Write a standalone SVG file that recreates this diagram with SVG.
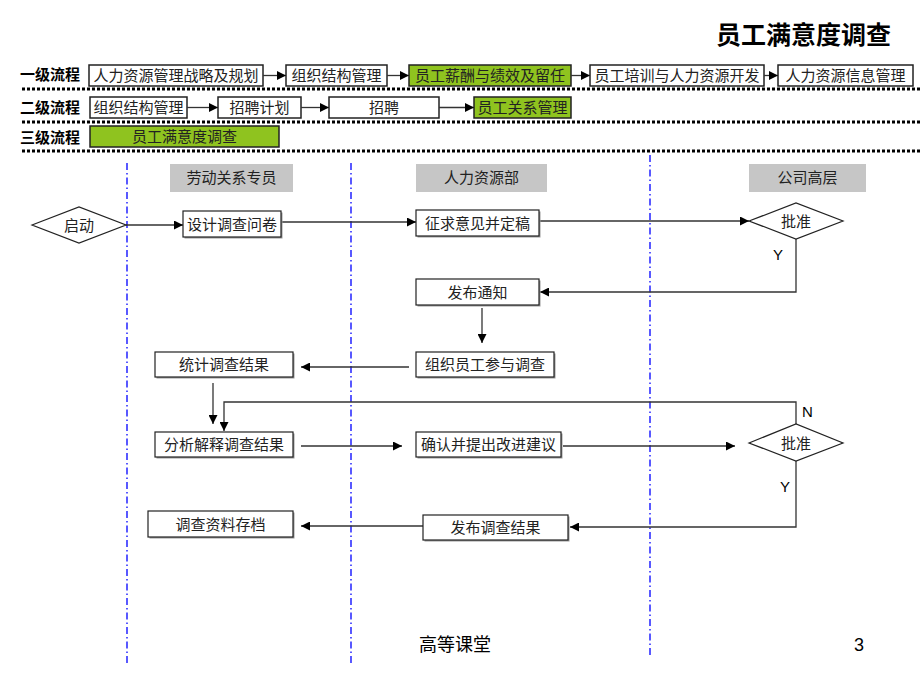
<svg xmlns="http://www.w3.org/2000/svg" width="920" height="690" viewBox="0 0 920 690">
<defs>
<marker id="ah" viewBox="0 0 10 10" refX="10" refY="5" markerWidth="9" markerHeight="9" markerUnits="userSpaceOnUse" orient="auto">
<path d="M0,0 L10,5 L0,10 z" fill="#000"/>
</marker>
<style>
text{font-family:"Noto Sans CJK SC","Liberation Sans",sans-serif;fill:#222;font-size:15px}
.lbl{font-weight:bold;fill:#000}
.hb{fill:#fff;stroke:#222;stroke-width:1.5}
.hg{fill:#8fc31f;stroke:#222;stroke-width:1.5}
.sep{stroke:#000;stroke-width:3;stroke-dasharray:3 2}
.lane{stroke:#0000ff;stroke-width:1.3;stroke-dasharray:7 3 1.5 3}
.lh{fill:#c6c6c6}
.bx{fill:#fff;stroke:#222;stroke-width:1.2}
.sh{fill:#999}
.cn{fill:none;stroke:#333;stroke-width:1.3}
.ca{fill:none;stroke:#333;stroke-width:1.3;marker-end:url(#ah)}
.yn{font-family:"Liberation Sans",Arial,sans-serif;font-size:15px;fill:#000}
</style>
</defs>
<rect width="920" height="690" fill="#fff"/>

<text x="891" y="44" text-anchor="end" style="font-size:25px;font-weight:bold;fill:#000">员工满意度调查</text>

<g id="levels">
<text class="lbl" x="20" y="80">一级流程</text>
<text class="lbl" x="20" y="113">二级流程</text>
<text class="lbl" x="20" y="143">三级流程</text>
<line class="sep" x1="22" y1="89" x2="920" y2="89"/>
<line class="sep" x1="22" y1="122" x2="920" y2="122"/>
<line class="sep" x1="22" y1="151" x2="920" y2="151"/>
</g>

<g id="h1a"><rect class="hb" x="89" y="65" width="174" height="21"/><text x="176" y="81" text-anchor="middle">人力资源管理战略及规划</text></g>
<g id="h1b"><rect class="hb" x="286" y="65" width="101" height="21"/><text x="336.5" y="81" text-anchor="middle">组织结构管理</text></g>
<g id="h1c"><rect class="hg" x="409" y="65" width="162" height="21"/><text x="490" y="81" text-anchor="middle">员工薪酬与绩效及留任</text></g>
<g id="h1d"><rect class="hb" x="590" y="65" width="174" height="21"/><text x="677" y="81" text-anchor="middle">员工培训与人力资源开发</text></g>
<g id="h1e"><rect class="hb" x="778" y="65" width="135" height="21"/><text x="845.5" y="81" text-anchor="middle">人力资源信息管理</text></g>

<g id="h2a"><rect class="hb" x="90" y="97" width="97" height="21"/><text x="138.5" y="113" text-anchor="middle">组织结构管理</text></g>
<g id="h2b"><rect class="hb" x="218" y="97" width="83" height="21"/><text x="259.5" y="113" text-anchor="middle">招聘计划</text></g>
<g id="h2c"><rect class="hb" x="329" y="97" width="110" height="21"/><text x="384" y="113" text-anchor="middle">招聘</text></g>
<g id="h2d"><rect class="hg" x="474" y="97" width="97" height="21"/><text x="522.5" y="113" text-anchor="middle">员工关系管理</text></g>

<g id="h3a"><rect class="hg" x="90" y="126" width="189" height="21"/><text x="184.5" y="142" text-anchor="middle">员工满意度调查</text></g>

<g id="lanes">
<line class="lane" x1="127" y1="163" x2="127" y2="665"/>
<line class="lane" x1="351" y1="163" x2="351" y2="665"/>
<line class="lane" x1="650" y1="155" x2="650" y2="658"/>
</g>

<g id="lane1"><rect class="lh" x="170" y="164" width="123" height="28"/><text x="231.5" y="183" text-anchor="middle">劳动关系专员</text></g>
<g id="lane2"><rect class="lh" x="416" y="164" width="131" height="28"/><text x="481.5" y="183" text-anchor="middle">人力资源部</text></g>
<g id="lane3"><rect class="lh" x="749" y="164" width="117" height="28"/><text x="807.5" y="183" text-anchor="middle">公司高层</text></g>

<g id="connectors">
<line class="ca" x1="263" y1="75.5" x2="286" y2="75.5"/>
<line class="ca" x1="387" y1="75.5" x2="409" y2="75.5"/>
<line class="ca" x1="571" y1="75.5" x2="590" y2="75.5"/>
<line class="ca" x1="764" y1="75.5" x2="778" y2="75.5"/>
<line class="ca" x1="187" y1="107.5" x2="218" y2="107.5"/>
<line class="ca" x1="301" y1="107.5" x2="329" y2="107.5"/>
<line class="ca" x1="439" y1="107.5" x2="474" y2="107.5"/>

<line class="ca" x1="126" y1="225" x2="183" y2="225"/>
<line class="ca" x1="281" y1="222" x2="416" y2="222"/>
<line class="ca" x1="539" y1="221" x2="749" y2="221"/>
<polyline class="ca" points="796,239 796,292 540,292"/>
<line class="ca" x1="482" y1="308" x2="482" y2="343"/>
<line class="ca" x1="409" y1="367" x2="301" y2="367"/>
<line class="ca" x1="213" y1="383" x2="213" y2="424"/>
<polyline class="ca" points="796,424 796,402 224,402 224,431"/>
<line class="ca" x1="301" y1="446" x2="402" y2="446"/>
<line class="ca" x1="563" y1="446" x2="735" y2="446"/>
<polyline class="ca" points="796,461 796,527 570,527"/>
<line class="ca" x1="423" y1="526" x2="301" y2="526"/>
<text class="yn" x="773" y="260">Y</text>
<text class="yn" x="802" y="417">N</text>
<text class="yn" x="780" y="492">Y</text>
</g>

<g id="start"><polygon points="32,225 79,207 126,225 79,243" fill="#fff" stroke="#222" stroke-width="1.2"/><text x="79" y="231" text-anchor="middle">启动</text></g>
<g id="design"><rect class="sh" x="184.5" y="212.5" width="98" height="26"/><rect class="bx" x="183" y="211" width="98" height="26"/><text x="232" y="230" text-anchor="middle">设计调查问卷</text></g>
<g id="solicit"><rect class="sh" x="417.5" y="211.5" width="123" height="26"/><rect class="bx" x="416" y="210" width="123" height="26"/><text x="477.5" y="229" text-anchor="middle">征求意见并定稿</text></g>
<g id="approve1"><polygon points="749,221 796,203 843,221 796,239" fill="#fff" stroke="#222" stroke-width="1.2"/><text x="796" y="227" text-anchor="middle">批准</text></g>
<g id="notice"><rect class="sh" x="417.5" y="280.5" width="123" height="26"/><rect class="bx" x="416" y="279" width="123" height="26"/><text x="477.5" y="298" text-anchor="middle">发布通知</text></g>
<g id="organize"><rect class="sh" x="417.5" y="353.5" width="138" height="25"/><rect class="bx" x="416" y="352" width="138" height="25"/><text x="485" y="370" text-anchor="middle">组织员工参与调查</text></g>
<g id="stats"><rect class="sh" x="156.5" y="353.5" width="138" height="25"/><rect class="bx" x="155" y="352" width="138" height="25"/><text x="224" y="370" text-anchor="middle">统计调查结果</text></g>
<g id="analyze"><rect class="sh" x="156.5" y="433.5" width="138" height="25"/><rect class="bx" x="155" y="432" width="138" height="25"/><text x="224" y="450" text-anchor="middle">分析解释调查结果</text></g>
<g id="confirm"><rect class="sh" x="417.5" y="433.5" width="145" height="25"/><rect class="bx" x="416" y="432" width="145" height="25"/><text x="488.5" y="450" text-anchor="middle">确认并提出改进建议</text></g>
<g id="approve2"><polygon points="749,443 796,424 843,443 796,461" fill="#fff" stroke="#222" stroke-width="1.2"/><text x="796" y="449" text-anchor="middle">批准</text></g>
<g id="publish"><rect class="sh" x="424.5" y="516.5" width="145" height="25"/><rect class="bx" x="423" y="515" width="145" height="25"/><text x="495.5" y="533" text-anchor="middle">发布调查结果</text></g>
<g id="archive"><rect class="sh" x="149.5" y="512.5" width="145" height="26"/><rect class="bx" x="148" y="511" width="145" height="26"/><text x="220.5" y="530" text-anchor="middle">调查资料存档</text></g>

<text x="455" y="651" text-anchor="middle" style="font-size:18px;fill:#000">高等课堂</text>
<text x="859" y="651" text-anchor="middle" style="font-family:'Liberation Sans',Arial,sans-serif;font-size:18px;fill:#000">3</text>
</svg>
